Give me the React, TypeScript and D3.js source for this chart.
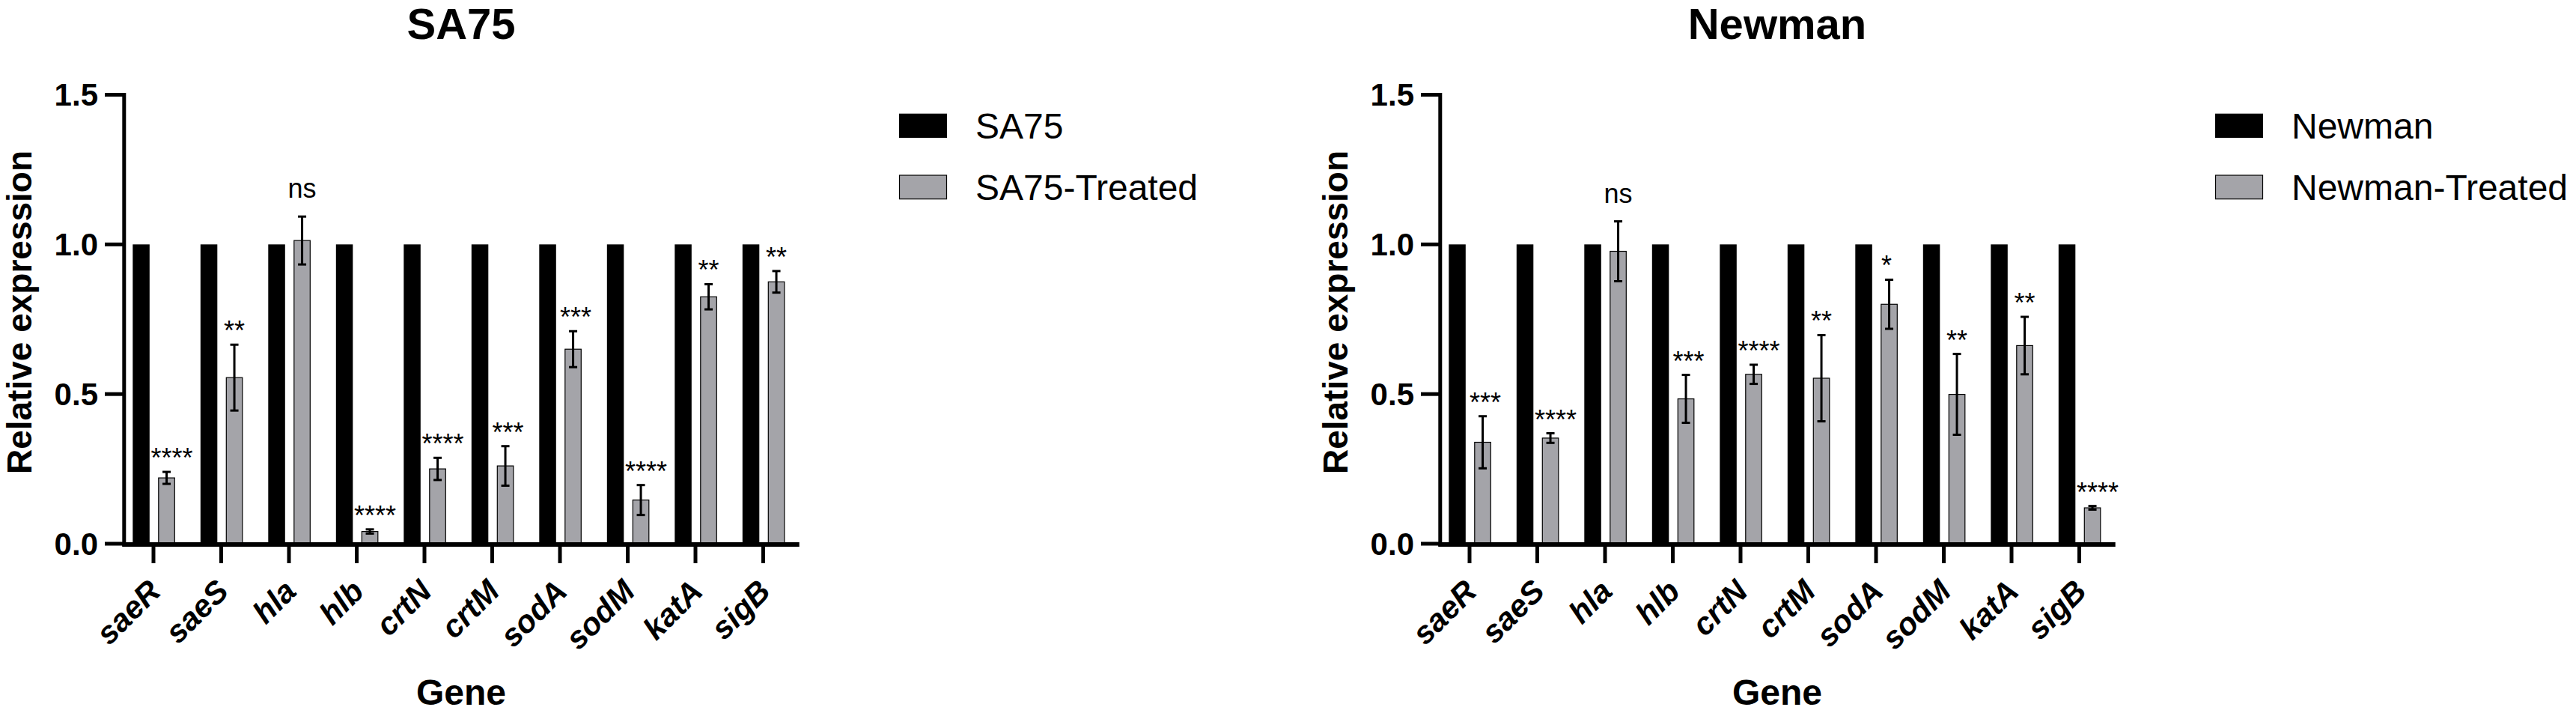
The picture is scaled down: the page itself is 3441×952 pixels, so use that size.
import React from "react";
import * as d3 from "d3";

const genes = ["saeR", "saeS", "hla", "hlb", "crtN", "crtM", "sodA", "sodM", "katA", "sigB"];

const sa75Control = [1, 1, 1, 1, 1, 1, 1, 1, 1, 1];
const sa75Treated = [0.22, 0.555, 1.013, 0.041, 0.25, 0.26, 0.65, 0.146, 0.825, 0.875];
const sa75Error = [0.02, 0.11, 0.08, 0.007, 0.037, 0.066, 0.06, 0.05, 0.042, 0.036];
const sa75Sig = ["****", "**", "ns", "****", "****", "***", "***", "****", "**", "**"];

const newmanControl = [1, 1, 1, 1, 1, 1, 1, 1, 1, 1];
const newmanTreated = [0.339, 0.353, 0.977, 0.484, 0.566, 0.553, 0.8, 0.499, 0.662, 0.12];
const newmanError = [0.087, 0.016, 0.1, 0.08, 0.032, 0.144, 0.082, 0.135, 0.096, 0.006];
const newmanSig = ["***", "****", "ns", "***", "****", "**", "*", "**", "**", "****"];

const yTicks = [0, 0.5, 1.0, 1.5];

const W = 3441;
const H = 952;
const FONT = "'Liberation Sans', Arial, Helvetica, sans-serif";
const GRAY = "#a4a4a9";

type PanelProps = {
  dx: number;
  title: string;
  names: string[];
  control: number[];
  treated: number[];
  error: number[];
  sig: string[];
};

const Panel = ({ dx, title, names, control, treated, error, sig }: PanelProps) => {
  const x = d3.scaleBand().domain(genes).range([159.75, 1064.75]);
  const x1 = d3.scaleBand().domain(["c", "t"]).range([-27.7, 28.8]).paddingInner(0.338);
  const y = d3.scaleLinear().domain([0, 1.5]).range([726, 126.5]);
  const mid = (g: string) => (x(g) as number) + x.bandwidth() / 2;
  const bw = x1.bandwidth();
  const axisX = 165.8;

  return (
    <g transform={`translate(${dx},0)`} fontFamily={FONT}>
      {/* title */}
      <text x={616} y={51.7} textAnchor="middle" fontSize={58} fontWeight="bold">
        {title}
      </text>

      {/* bars */}
      {genes.map((g, i) => (
        <g key={g}>
          <rect
            x={mid(g) + (x1("c") as number)}
            y={y(control[i])}
            width={bw}
            height={y(0) - y(control[i])}
            fill="#000"
          />
          <rect
            x={mid(g) + (x1("t") as number) + 0.5}
            y={y(treated[i])}
            width={bw - 1}
            height={y(0) - y(treated[i])}
            fill={GRAY}
            stroke="#000"
            strokeWidth={1.2}
          />
        </g>
      ))}

      {/* error bars + significance */}
      {genes.map((g, i) => {
        const cx = mid(g) + (x1("t") as number) + bw / 2;
        const top = y(treated[i] + error[i]);
        const bot = y(treated[i] - error[i]);
        const isNs = sig[i] === "ns";
        return (
          <g key={g + "-err"}>
            <line x1={cx} x2={cx} y1={top} y2={bot} stroke="#000" strokeWidth={3} />
            <line x1={cx - 5.5} x2={cx + 5.5} y1={top} y2={top} stroke="#000" strokeWidth={3} />
            <line x1={cx - 5.5} x2={cx + 5.5} y1={bot} y2={bot} stroke="#000" strokeWidth={3} />
            <text
              x={isNs ? cx : cx + (sig[i].length - 2) * 3.5}
              y={top - (isNs ? 25 : 6)}
              textAnchor="middle"
              fontSize={36}
            >
              {sig[i]}
            </text>
          </g>
        );
      })}

      {/* y axis */}
      <line x1={axisX} x2={axisX} y1={124} y2={729.5} stroke="#000" strokeWidth={5} />
      {yTicks.map((t) => (
        <g key={t}>
          <line x1={140} x2={axisX} y1={y(t)} y2={y(t)} stroke="#000" strokeWidth={5} />
          <text x={131} y={y(t)} dy="0.35em" textAnchor="end" fontSize={42} fontWeight="bold">
            {d3.format(".1f")(t)}
          </text>
        </g>
      ))}
      <text
        transform={`translate(41.7,417) rotate(-90)`}
        textAnchor="middle"
        fontSize={46}
        fontWeight="bold"
      >
        Relative expression
      </text>

      {/* x axis */}
      <line x1={163.3} x2={1067.7} y1={727} y2={727} stroke="#000" strokeWidth={6} />
      {genes.map((g) => (
        <g key={g + "-tick"}>
          <line x1={mid(g)} x2={mid(g)} y1={729} y2={752} stroke="#000" strokeWidth={5} />
          <text
            transform={`translate(${mid(g) + 12},792) rotate(-45)`}
            textAnchor="end"
            fontSize={42}
            fontWeight="bold"
            fontStyle="italic"
          >
            {g}
          </text>
        </g>
      ))}
      <text x={616} y={941} textAnchor="middle" fontSize={48} fontWeight="bold">
        Gene
      </text>

      {/* legend */}
      <rect x={1201} y={151.7} width={64} height={32.3} fill="#000" />
      <text x={1303} y={185} fontSize={48}>
        {names[0]}
      </text>
      <rect x={1201.5} y={234} width={63} height={31.7} fill={GRAY} stroke="#000" strokeWidth={1.2} />
      <text x={1303} y={266.7} fontSize={48}>
        {names[1]}
      </text>
    </g>
  );
};

export default function App() {
  return (
    <svg
      width={W}
      height={H}
      viewBox={`0 0 ${W} ${H}`}
      style={{ position: "absolute", left: 0, top: 0, background: "#fff" }}
    >
      <rect width={W} height={H} fill="#fff" />
      <Panel
        dx={0}
        title="SA75"
        names={["SA75", "SA75-Treated"]}
        control={sa75Control}
        treated={sa75Treated}
        error={sa75Error}
        sig={sa75Sig}
      />
      <Panel
        dx={1758}
        title="Newman"
        names={["Newman", "Newman-Treated"]}
        control={newmanControl}
        treated={newmanTreated}
        error={newmanError}
        sig={newmanSig}
      />
    </svg>
  );
}
